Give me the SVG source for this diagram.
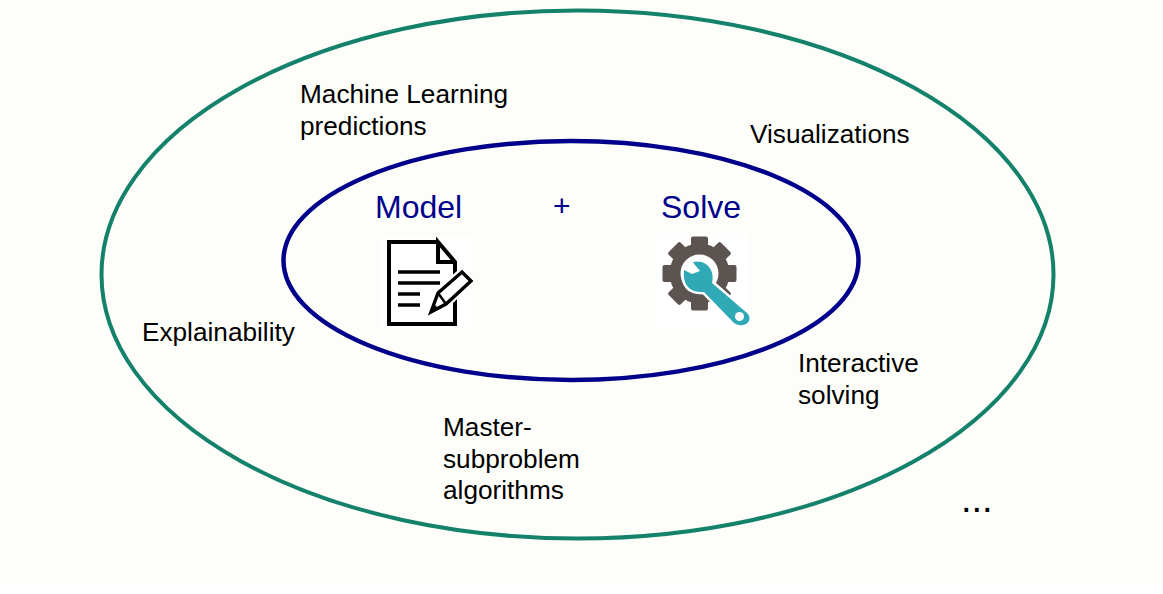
<svg xmlns="http://www.w3.org/2000/svg" width="1163" height="594" viewBox="0 0 1163 594">
<style>
text{font-family:"Liberation Sans",Arial,sans-serif}
.t{font-size:26.2px;fill:#000}
.b{font-size:32px;fill:#00008b}
.ln{fill:none;stroke:#000;stroke-width:3.6}
</style>
<rect width="1163" height="594" fill="#fff"/>
<rect width="1163" height="585" fill="#fdfefa"/>
<g id="outer"><ellipse cx="577.500" cy="274.500" rx="476" ry="264" fill="none" stroke="#14826b" stroke-width="4"/></g>
<g id="inner"><ellipse cx="571" cy="260.500" rx="287.500" ry="119.500" fill="none" stroke="#00008b" stroke-width="4.500"/></g>
<g id="labels">
<text class="t" x="300" y="103">Machine Learning</text>
<text class="t" x="300" y="135">predictions</text>
<text class="t" x="750" y="143">Visualizations</text>
<text class="t" x="142" y="341">Explainability</text>
<text class="t" x="798" y="372">Interactive</text>
<text class="t" x="798" y="404">solving</text>
<text class="t" x="443" y="436">Master-</text>
<text class="t" x="443" y="468">subproblem</text>
<text class="t" x="443" y="499">algorithms</text>
<text class="t" x="961" y="512" style="font-size:38px">...</text>
</g>
<g id="model">
<text class="b" x="375" y="218">Model</text>
<rect x="378" y="236" width="94" height="94" fill="#fff"/>
<path class="ln" style="stroke-width:4" d="M438 242H389V324H455V262L438 242V262H455"/>
<path class="ln" d="M398 272H440M398 283H440M398 294H420M398 305H420"/>
<path d="M431 312L438 293L462 272L471 281L446 304Z" fill="#fff" stroke="#fff" stroke-width="8"/>
<path d="M431 312L438 293L462 272L471 281L446 304Z" fill="#fff" stroke="#000" stroke-width="3.400"/>
<path d="M438 293L446 304" fill="none" stroke="#000" stroke-width="2.500"/>
<path d="M431 312L434 304L439 309Z" fill="#000"/>
</g>
<g id="plus"><text class="b" x="553" y="216" style="font-size:30px">+</text></g>
<g id="solve">
<text class="b" x="661" y="218">Solve</text>
<rect x="657" y="234" width="92" height="94" fill="#fff"/>
<g fill="#5b5450">
<circle cx="699.500" cy="273.500" r="30"/>
<rect x="691" y="236.500" width="17" height="14" rx="2"/>
<rect x="691" y="236.500" width="17" height="14" rx="2" transform="rotate(45 699.500 273.500)"/>
<rect x="691" y="236.500" width="17" height="14" rx="2" transform="rotate(90 699.500 273.500)"/>
<rect x="691" y="236.500" width="17" height="14" rx="2" transform="rotate(135 699.500 273.500)"/>
<rect x="691" y="236.500" width="17" height="14" rx="2" transform="rotate(180 699.500 273.500)"/>
<rect x="691" y="236.500" width="17" height="14" rx="2" transform="rotate(225 699.500 273.500)"/>
<rect x="691" y="236.500" width="17" height="14" rx="2" transform="rotate(270 699.500 273.500)"/>
<rect x="691" y="236.500" width="17" height="14" rx="2" transform="rotate(315 699.500 273.500)"/>
</g>
<circle cx="699.500" cy="273.500" r="19" fill="#fff"/>
<path d="M693 262C700 260 708 263 711 270C713 274 713 279 712 283L747 313C751 317 750 322 746 324C742 326 737 326 733 322L704 292C700 292 696 292 692 290C686 287 683 280 684 270L692 274L700 271L695 265Z" fill="#fff" stroke="#fff" stroke-width="5"/>
<path d="M693 262C700 260 708 263 711 270C713 274 713 279 712 283L747 313C751 317 750 322 746 324C742 326 737 326 733 322L704 292C700 292 696 292 692 290C686 287 683 280 684 270L692 274L700 271L695 265Z" fill="#2fa9b5"/>
<circle cx="739.500" cy="316.500" r="4.500" fill="#fff"/>
</g>
</svg>
